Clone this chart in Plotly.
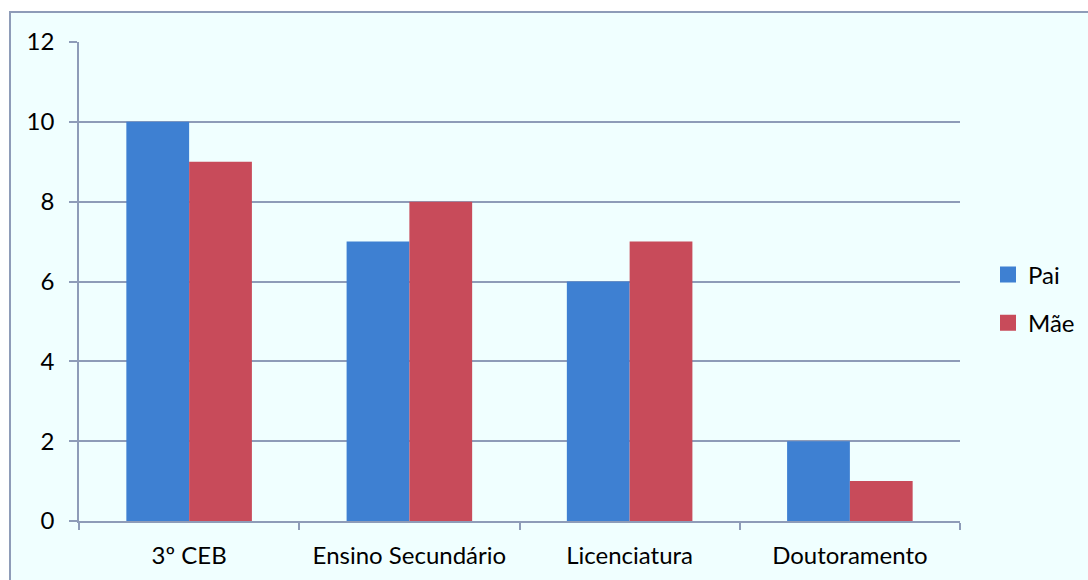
import plotly.graph_objects as go

categories = ["3º CEB", "Ensino Secundário", "Licenciatura", "Doutoramento"]
pai = [10, 7, 6, 2]
mae = [9, 8, 7, 1]
y_ticks = [0, 2, 4, 6, 8, 10, 12]

BLUE = "#3E80D2"
RED = "#C84B5A"
GRID = "#8E9CB8"
BG = "#F0FFFF"
FONT = "Lato"

fig = go.Figure()
fig.add_trace(go.Bar(x=categories, y=pai, name="Pai", marker_color=BLUE,
                     showlegend=False, marker_line_width=0))
fig.add_trace(go.Bar(x=categories, y=mae, name="Mãe", marker_color=RED,
                     showlegend=False, marker_line_width=0))
# legend proxies
fig.add_trace(go.Scatter(x=[None], y=[None], mode="markers", name="Pai", legendgroup="a",
                         marker=dict(symbol="square", size=16, color=BLUE)))
fig.add_trace(go.Scatter(x=[None], y=[None], mode="markers", name="Mãe", legendgroup="b",
                         marker=dict(symbol="square", size=16, color=RED)))

L, R, T, B = 79, 960, 42, 521
W, H = 1088, 580
PW = W - L
ph = B - T

fig.add_shape(type="rect", xref="paper", yref="paper",
              x0=(10 - L) / PW, x1=(W + 20 - L) / PW,
              y0=-(H + 20 - B) / ph, y1=1 + (T - 12) / ph,
              line=dict(color=GRID, width=2), fillcolor=BG, layer="below")

fig.update_layout(
    width=W, height=H,
    margin=dict(l=L, r=0, t=T, b=H - B, pad=0),
    paper_bgcolor="white", plot_bgcolor="rgba(0,0,0,0)",
    barmode="group", bargap=0.43, bargroupgap=0,
    font=dict(family=FONT, size=24, color="#000"),
    showlegend=True,
    legend=dict(x=(988 - L) / PW, y=(B - 299) / ph, xanchor="left", yanchor="middle",
                bgcolor="rgba(0,0,0,0)", font=dict(size=24),
                traceorder="grouped", tracegroupgap=14, itemwidth=30),
)
fig.update_xaxes(type="category", domain=[0, (R - L) / PW], showgrid=False,
                 showline=True, linecolor=GRID,
                 linewidth=1.5, ticks="outside", tickson="boundaries", ticklen=7,
                 tickcolor=GRID, tickwidth=1.5, ticklabelstandoff=12)
fig.update_yaxes(range=[0, 12], tickvals=y_ticks, showgrid=True, gridcolor=GRID,
                 gridwidth=1.5, showline=True, linecolor=GRID, linewidth=1.5,
                 ticks="outside", ticklen=8, tickcolor=GRID, tickwidth=1.5,
                 zeroline=False, ticklabelstandoff=10)

fig.write_html("out.html")
